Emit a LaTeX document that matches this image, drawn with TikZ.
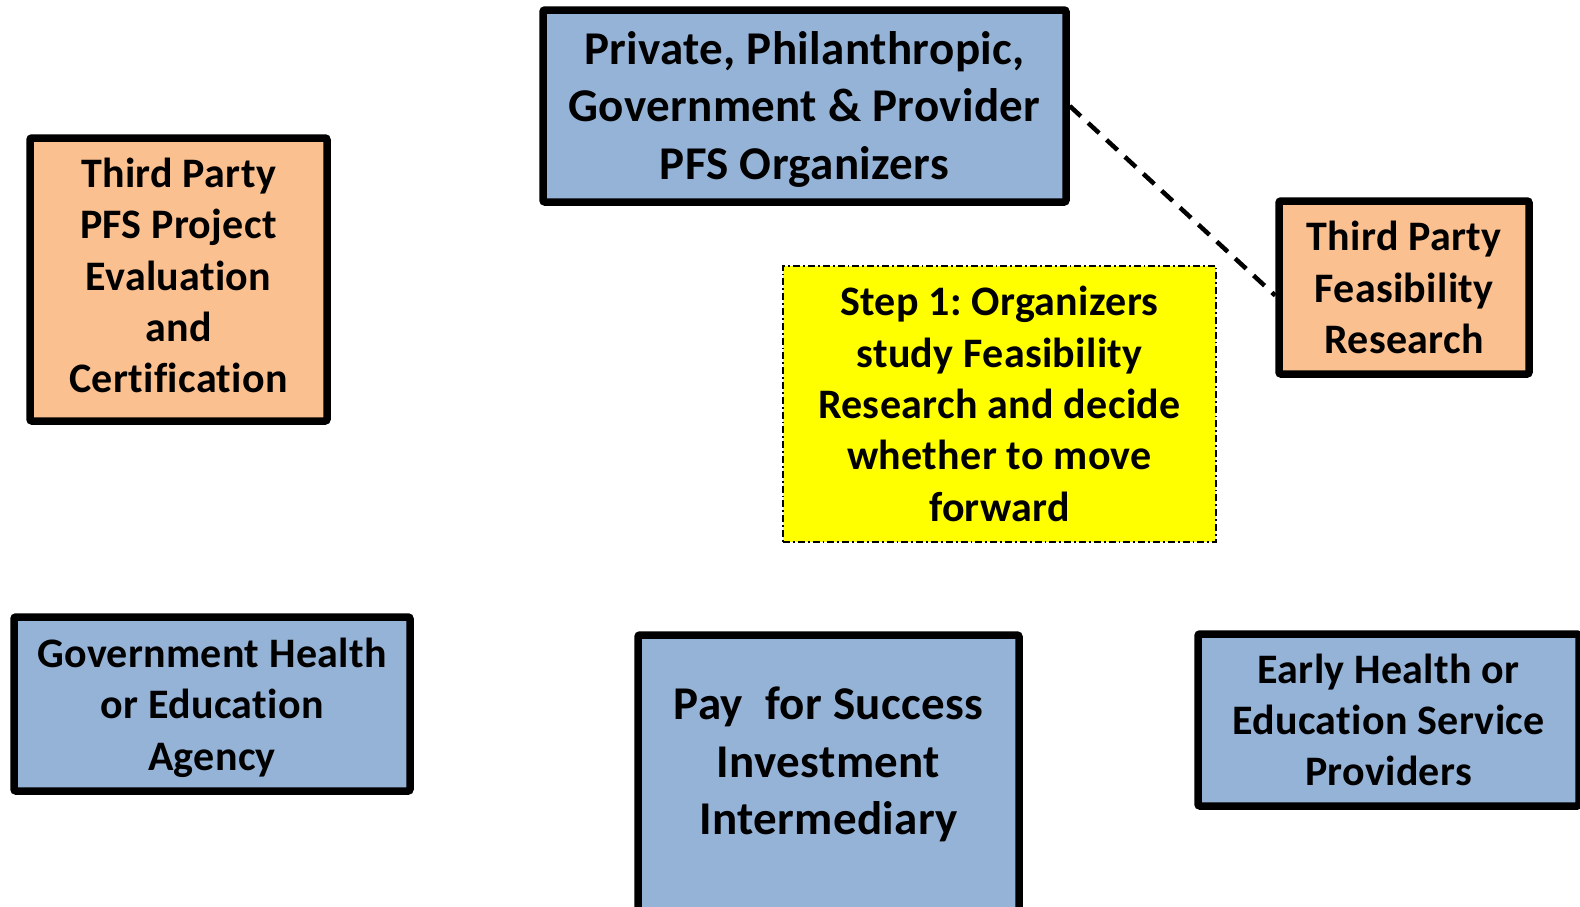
\documentclass[tikz,border=0pt]{standalone}
\usepackage{fontspec}
\setmainfont{Carlito}[Ligatures={NoCommon}, LetterSpace=0.8]
\definecolor{boxblue}{HTML}{95B3D7}
\definecolor{boxorange}{HTML}{FAC090}
\definecolor{boxyellow}{HTML}{FFFF00}
\tikzset{
  thickbox/.style={draw=black, line width=7.5pt, rounded corners=2pt, inner sep=0pt},
  bluebox/.style={thickbox, fill=boxblue},
  orangebox/.style={thickbox, fill=boxorange},
  midtext/.style={align=center, inner sep=0pt, font=\bfseries\fontsize{42}{51.4}\selectfont},
  bigtext/.style={align=center, inner sep=0pt, font=\bfseries\fontsize{47}{57.5}\selectfont},
  stepbox/.style={draw=black, line width=1.8pt, fill=boxyellow, dash pattern=on 7pt off 3pt on 1.8pt off 3pt, inner sep=0pt, align=center, font=\bfseries\fontsize{42}{51.4}\selectfont},
  linkline/.style={draw=black, line width=4.5pt, dash pattern=on 15pt off 10pt}
}
\begin{document}
\frenchspacing
\begin{tikzpicture}[x=1pt,y=-1pt]
\useasboundingbox (0,0) rectangle (1580,906);
\clip (0,0) rectangle (1580,906);
\node[bluebox, minimum width=523pt, minimum height=192pt,
  label={[bigtext, yshift=-3pt]center:{Private, Philanthropic,\\Government \& Provider\\PFS Organizers}}] (org) at (804.5,106) {};
\node[orangebox, minimum width=297pt, minimum height=283pt,
  label={[midtext, yshift=4pt]center:{Third Party\\PFS Project\\Evaluation\\and\\Certification}}] (eval) at (178.5,279.5) {};
\node[orangebox, minimum width=250pt, minimum height=173pt,
  label={[midtext]center:{Third Party\\Feasibility\\Research}}] (feas) at (1404,287.5) {};
\node[stepbox, minimum width=433pt, minimum height=276pt] (step) at (999.5,404) {Step 1: Organizers\\study Feasibility\\Research and decide\\whether to move\\forward};
\node[bluebox, minimum width=396pt, minimum height=174pt,
  label={[midtext, yshift=-3.5pt]center:{Government Health\\or Education\\Agency}}] (gov) at (212,704) {};
\node[bluebox, minimum width=381pt, minimum height=340pt,
  label={[bigtext, yshift=40.5pt]center:{Pay\ \ for Success\\Investment\\Intermediary}}] (pfs) at (828.5,805) {};
\node[bluebox, minimum width=381pt, minimum height=172pt,
  label={[midtext]center:{Early Health or\\Education Service\\Providers}}] (prov) at (1388.5,720) {};
\draw[linkline] (org.east) -- ([yshift=-8pt]feas.west);
\end{tikzpicture}
\end{document}
